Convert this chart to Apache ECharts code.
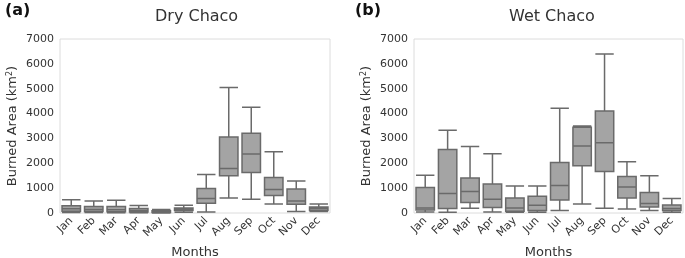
<!DOCTYPE html>
<html>
<head>
<meta charset="utf-8">
<script src="https://cdn.jsdelivr.net/npm/echarts@6/dist/echarts.min.js"></script>
<style>
  html, body { margin: 0; padding: 0; background: #fff; }
  #chart { width: 685px; height: 258px; }
</style>
</head>
<body>
<div id="chart"></div>
<script>
// months on the x axis
var months = ['Jan', 'Feb', 'Mar', 'Apr', 'May', 'Jun', 'Jul', 'Aug', 'Sep', 'Oct', 'Nov', 'Dec'];
var yTicks = [0, 1000, 2000, 3000, 4000, 5000, 6000, 7000];

// box stats per month: [min, q1, median, q3, max]
var dryChaco = [
    [20, 70, 170, 290, 530],
    [20, 60, 140, 260, 480],
    [10, 50, 130, 260, 510],
    [10, 40, 100, 180, 300],
    [5, 20, 50, 90, 140],
    [30, 100, 150, 200, 310],
    [40, 390, 580, 985, 1550],
    [606, 1494, 1792, 3056, 5047],
    [553, 1631, 2370, 3205, 4255],
    [363, 702, 944, 1429, 2463],
    [57, 351, 484, 969, 1292],
    [57, 97, 178, 242, 363]
];
var wetChaco = [
    [40, 121, 202, 1025, 1522],
    [28, 178, 783, 2559, 3326],
    [190, 420, 864, 1413, 2680],
    [40, 218, 553, 1171, 2382],
    [28, 69, 202, 606, 1090],
    [28, 97, 311, 674, 1090],
    [97, 525, 1106, 2035, 4215],
    [363, 1898, 2693, 3447, 3500],
    [190, 1671, 2826, 4106, 6394],
    [162, 606, 1050, 1470, 2060],
    [97, 242, 380, 824, 1494],
    [28, 97, 178, 323, 581]
];

var FONT = 'DejaVu Sans';
var chart = echarts.init(document.getElementById('chart'));

function xAxisOf(idx) {
    return {
        type: 'category',
        gridIndex: idx,
        data: months,
        name: 'Months',
        nameLocation: 'middle',
        nameGap: 33,
        nameTextStyle: { fontFamily: FONT, fontSize: 13, color: '#333' },
        axisLine: { show: false },
        axisTick: { show: false },
        splitLine: { show: false },
        axisLabel: { rotate: 45, margin: 6, fontFamily: FONT, fontSize: 11, color: '#333', interval: 0 }
    };
}

function yAxisOf(idx) {
    return {
        type: 'value',
        gridIndex: idx,
        min: yTicks[0],
        max: yTicks[yTicks.length - 1],
        interval: 1000,
        name: 'Burned Area (km{sup|2})',
        nameLocation: 'middle',
        nameGap: 40,
        nameRotate: 90,
        nameTextStyle: {
            fontFamily: FONT, fontSize: 13, color: '#333',
            rich: { sup: { fontFamily: FONT, fontSize: 8, color: '#333', verticalAlign: 'top', padding: [0, 0, 6, 0] } }
        },
        axisLine: { show: false },
        axisTick: { show: false },
        splitLine: { show: false },
        axisLabel: {
            margin: 6, fontFamily: FONT, fontSize: 11, color: '#333',
            formatter: function (v) { return String(v); }
        }
    };
}

function boxSeries(idx, data) {
    return {
        type: 'boxplot',
        xAxisIndex: idx,
        yAxisIndex: idx,
        data: data,
        boxWidth: ['82%', '82%'],
        itemStyle: { color: '#a4a4a4', borderColor: '#6a6a6a', borderWidth: 1.5 },
        emphasis: { disabled: true }
    };
}

option = {
    animation: false,
    backgroundColor: '#fff',
    title: [
        { text: '(a)', left: 0, top: -2, textStyle: { fontFamily: FONT, fontSize: 16, fontWeight: 'bold', color: '#111' } },
        { text: 'Dry Chaco', left: 150, top: 4, textStyle: { fontFamily: FONT, fontSize: 16, fontWeight: 'normal', color: '#333' } },
        { text: '(b)', left: 350, top: -2, textStyle: { fontFamily: FONT, fontSize: 16, fontWeight: 'bold', color: '#111' } },
        { text: 'Wet Chaco', left: 504, top: 4, textStyle: { fontFamily: FONT, fontSize: 16, fontWeight: 'normal', color: '#333' } }
    ],
    grid: [
        { left: 60, right: 355, top: 39, bottom: 45, containLabel: false, outerBoundsMode: 'none', show: true, borderColor: '#dcdcdc', borderWidth: 1 },
        { left: 414, right: 2, top: 39, bottom: 45, containLabel: false, outerBoundsMode: 'none', show: true, borderColor: '#dcdcdc', borderWidth: 1 }
    ],
    xAxis: [xAxisOf(0), xAxisOf(1)],
    yAxis: [yAxisOf(0), yAxisOf(1)],
    series: [boxSeries(0, dryChaco), boxSeries(1, wetChaco)]
};
chart.setOption(option);
</script>
</body>
</html>
